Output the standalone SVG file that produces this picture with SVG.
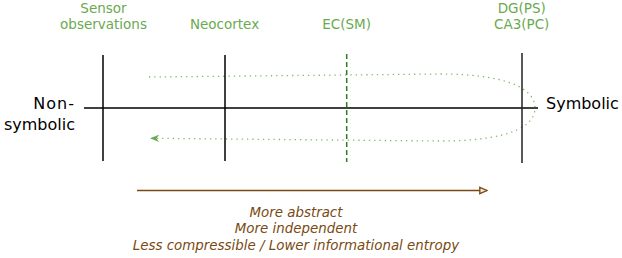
<svg xmlns="http://www.w3.org/2000/svg" width="622" height="258" viewBox="0 0 622 258">
<style>
.lbl{font-family:"DejaVu Sans",Verdana,sans-serif;font-size:13.5px;fill:#6aaa4f;text-anchor:middle}
.big{font-family:"DejaVu Sans",Verdana,sans-serif;font-size:16px;fill:#000}
.ax{stroke:#000;stroke-width:1.5;fill:none}
.brn{font-family:"DejaVu Sans",Verdana,sans-serif;font-size:13.4px;font-style:italic;fill:#7a4a12;text-anchor:middle}
</style>
<defs>
<marker id="ga" viewBox="0 0 10 10" refX="9" refY="5" markerWidth="9" markerHeight="9" markerUnits="userSpaceOnUse" orient="auto">
<path d="M0,1 L10,5 L0,9 L3,5 Z" fill="#6aaa4f"/>
</marker>
<marker id="ba" viewBox="0 0 10 10" refX="9" refY="5" markerWidth="9" markerHeight="9" markerUnits="userSpaceOnUse" orient="auto">
<path d="M1,1.5 L9,5 L1,8.5 Z" fill="#f3e6d6" stroke="#7a4a12" stroke-width="1.5"/>
</marker>
</defs>
<g id="connectors">
<line class="ax" x1="84" y1="108" x2="538" y2="108"/>
<path d="M149,77 L440,74 C505,74 535,88 535,108 C535,128 505,141 440,141 L151,138.3" fill="none" stroke="#7dbb64" stroke-width="1.3" stroke-dasharray="1.3,4" marker-end="url(#ga)"/>
<line x1="137" y1="190.5" x2="487" y2="190.5" stroke="#7a4a12" stroke-width="1.3" marker-end="url(#ba)"/>
</g>
<g id="sensor">
<line class="ax" x1="103" y1="55" x2="103" y2="161"/>
<text class="lbl" x="103.5" y="13">Sensor</text>
<text class="lbl" x="103.5" y="29">observations</text>
</g>
<g id="neocortex">
<line class="ax" x1="225" y1="55" x2="225" y2="161"/>
<text class="lbl" x="224.5" y="29">Neocortex</text>
</g>
<g id="ec">
<line x1="346.7" y1="54" x2="346.7" y2="162" stroke="#2e7d22" stroke-width="1.5" stroke-dasharray="5,3"/>
<text class="lbl" x="346.7" y="29">EC(SM)</text>
</g>
<g id="dg">
<line x1="522" y1="53" x2="522" y2="163" stroke="#222" stroke-width="1.5"/>
<text class="lbl" x="521.7" y="13">DG(PS)</text>
<text class="lbl" x="521.7" y="29">CA3(PC)</text>
</g>
<g id="nonsymbolic">
<text class="big" x="75" y="108.5" text-anchor="end" letter-spacing="1">Non-</text>
<text class="big" x="75" y="129.5" text-anchor="end">symbolic</text>
</g>
<g id="symbolic">
<text class="big" x="546" y="108.5">Symbolic</text>
</g>
<g id="direction">
<text class="brn" x="296" y="217">More abstract</text>
<text class="brn" x="296" y="233">More independent</text>
<text class="brn" x="296" y="249.5">Less compressible / Lower informational entropy</text>
</g>
</svg>
